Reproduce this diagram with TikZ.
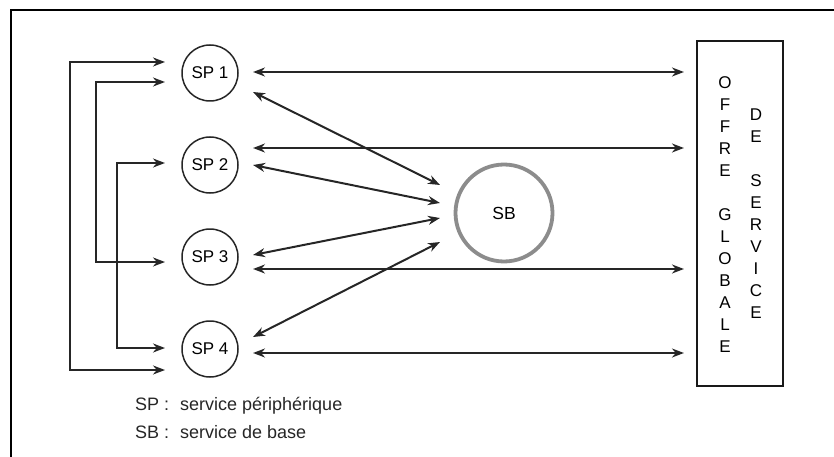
\documentclass[tikz,border=0pt]{standalone}
\usepackage{fontspec}
\setmainfont{Liberation Sans}
\usetikzlibrary{arrows.meta}

\begin{document}
\begin{tikzpicture}[x=1pt,y=-1pt,
  spnode/.style={circle,draw=black!85,line width=1.5pt,minimum size=56pt,inner sep=0pt,
    font=\fontsize{17}{20}\selectfont},
  sbnode/.style={circle,draw=black!45,line width=3.8pt,minimum size=97pt,inner sep=0pt,
    font=\fontsize{17.5}{20}\selectfont},
  offerbox/.style={draw=black!90,line width=2.1pt,minimum width=86pt,minimum height=345pt,inner sep=0pt},
  letters/.style={align=center,inner sep=0pt,font=\fontsize{17}{22}\selectfont},
  legend/.style={anchor=base west,inner sep=0pt,text=black!85,font=\fontsize{18}{21}\selectfont},
  biarrow/.style={{Stealth[length=12pt,width=9pt]}-{Stealth[length=12pt,width=9pt]},
    line width=2pt,draw=black!85}]

\useasboundingbox (0,0) rectangle (834,457);

% frame
\draw[line width=2.8pt] (834,10) -- (11,10) -- (11,457);

% peripheral services
\node[spnode] (sp1) at (210,73) {SP 1};
\node[spnode] (sp2) at (210,165) {SP 2};
\node[spnode] (sp3) at (210,257) {SP 3};
\node[spnode] (sp4) at (210,349) {SP 4};

% base service
\node[sbnode] (sb) at (504,213) {SB};

% global offer
\node[offerbox] (box) at (740,213.5) {};
\node[letters] (col1) at (725,215) {O\\F\\F\\R\\E\\[22pt]G\\L\\O\\B\\A\\L\\E};
\node[letters] (col2) at (756,214) {D\\E\\[22pt]S\\E\\R\\V\\I\\C\\E};

% links to the global offer
\coordinate (h1) at ([shift={(43,-1)}]sp1.center);
\coordinate (h2) at ([shift={(43,-17)}]sp2.center);
\coordinate (h3) at ([shift={(43,12)}]sp3.center);
\coordinate (h4) at ([shift={(43,4)}]sp4.center);
\draw[biarrow,shorten >=12pt] (h1) -- (h1 -| box.west);
\draw[biarrow,shorten >=12pt] (h2) -- (h2 -| box.west);
\draw[biarrow,shorten >=12pt] (h3) -- (h3 -| box.west);
\draw[biarrow,shorten >=12pt] (h4) -- (h4 -| box.west);

% links to the base service
\draw[biarrow] ([shift={(43,19)}]sp1.center) -- ([shift={(-64,-28)}]sb.center);
\draw[biarrow] ([shift={(43,0)}]sp2.center) -- ([shift={(-64,-10)}]sb.center);
\draw[biarrow] ([shift={(43,-2)}]sp3.center) -- ([shift={(-64,5)}]sb.center);
\draw[biarrow] ([shift={(43,-12)}]sp4.center) -- ([shift={(-64,29)}]sb.center);

% links between peripheral services
\draw[biarrow] ([shift={(-45,-11)}]sp1.center) -- ++(-95,0) |- ([shift={(-45,21)}]sp4.center);
\draw[biarrow] ([shift={(-45,9)}]sp1.center) -- ++(-69,0) |- ([shift={(-45,5)}]sp3.center);
\draw[biarrow] ([shift={(-45,-2)}]sp2.center) -- ++(-48,0) |- ([shift={(-45,-1)}]sp4.center);

% legend
\node[legend] (leg1) at (135,410) {\makebox[45pt][l]{SP :}service périphérique};
\node[legend] (leg2) at (135,438) {\makebox[45pt][l]{SB :}service de base};

\end{tikzpicture}
\end{document}
